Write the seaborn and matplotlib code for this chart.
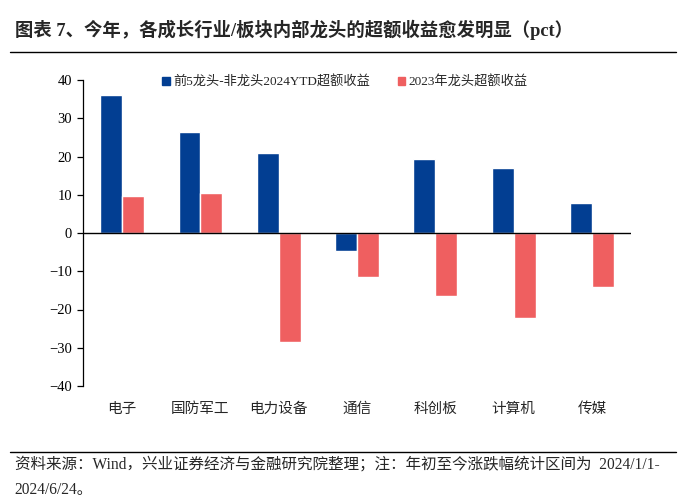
import pandas as pd
import matplotlib.pyplot as plt
import seaborn as sns
from matplotlib.lines import Line2D
from matplotlib.patches import Patch

# data
categories = ["电子", "国防军工", "电力设备", "通信", "科创板", "计算机", "传媒"]
leader_2024 = [36.0, 26.4, 20.9, -4.6, 19.3, 17.0, 7.8]
leader_2023 = [9.7, 10.5, -28.4, -11.5, -16.4, -22.2, -14.1]
series_names = ["前5龙头-非龙头2024YTD超额收益", "2023年龙头超额收益"]
y_ticks = [-40, -30, -20, -10, 0, 10, 20, 30, 40]

BLUE = "#023E92"
RED = "#EF5F60"

sns.set_style("white")
FONT = ["Liberation Serif", "Noto Sans CJK SC", "DejaVu Sans"]
plt.rcParams["font.family"] = FONT

df = pd.DataFrame({
    "category": categories * 2,
    "value": leader_2024 + leader_2023,
    "series": [series_names[0]] * len(categories) + [series_names[1]] * len(categories),
})

fig = plt.figure(figsize=(7, 5), dpi=100)
ax = fig.add_axes([0.1186, 0.228, 0.7829, 0.612])

sns.barplot(data=df, x="category", y="value", hue="series", order=categories,
            hue_order=series_names, palette=[BLUE, RED], width=0.56, gap=0,
            saturation=1, errorbar=None, legend=False, ax=ax)

ax.set_xlim(-0.5, len(categories) - 0.5)
ax.set_ylim(-40, 40)
ax.set_yticks(y_ticks)
ax.set_xlabel("")
ax.set_ylabel("")
ax.axhline(0, color="black", lw=1, zorder=3)

for s in ["top", "right", "bottom"]:
    ax.spines[s].set_visible(False)
ax.spines["left"].set_color("black")
ax.spines["left"].set_linewidth(0.9)

ax.tick_params(axis="y", length=4, width=0.9, direction="out", left=True,
               labelsize=10.5, colors="black", pad=4)
ax.tick_params(axis="x", length=0, labelsize=10.5, pad=12)
for lbl in ax.get_yticklabels():
    lbl.set_fontfamily(FONT)
for lbl in ax.get_xticklabels():
    lbl.set_fontfamily(FONT)

handles = [Patch(color=BLUE), Patch(color=RED)]
fig.legend(handles, series_names, loc="center left", bbox_to_anchor=(0.215, 0.836),
           ncol=2, frameon=False, fontsize=9.5, handlelength=0.6, handleheight=0.6,
           handletextpad=0.2, columnspacing=2.1)

# title and footer
fig.text(0.021, 0.94, "图表 7、今年，各成长行业/板块内部龙头的超额收益愈发明显（pct）",
         fontsize=13.2, fontweight="bold", ha="left", va="center", family=FONT)
fig.add_artist(Line2D([0.014, 0.966], [0.896, 0.896], color="black", lw=1))
fig.add_artist(Line2D([0.014, 0.966], [0.096, 0.096], color="black", lw=1))
fig.text(0.021, 0.07, "资料来源：Wind，兴业证券经济与金融研究院整理；注：年初至今涨跌幅统计区间为  2024/1/1-",
         fontsize=11.2, ha="left", va="center", family=FONT)
fig.text(0.021, 0.02, "2024/6/24。", fontsize=11.2, ha="left", va="center", family=FONT)

fig.savefig("out.png", dpi=100)
